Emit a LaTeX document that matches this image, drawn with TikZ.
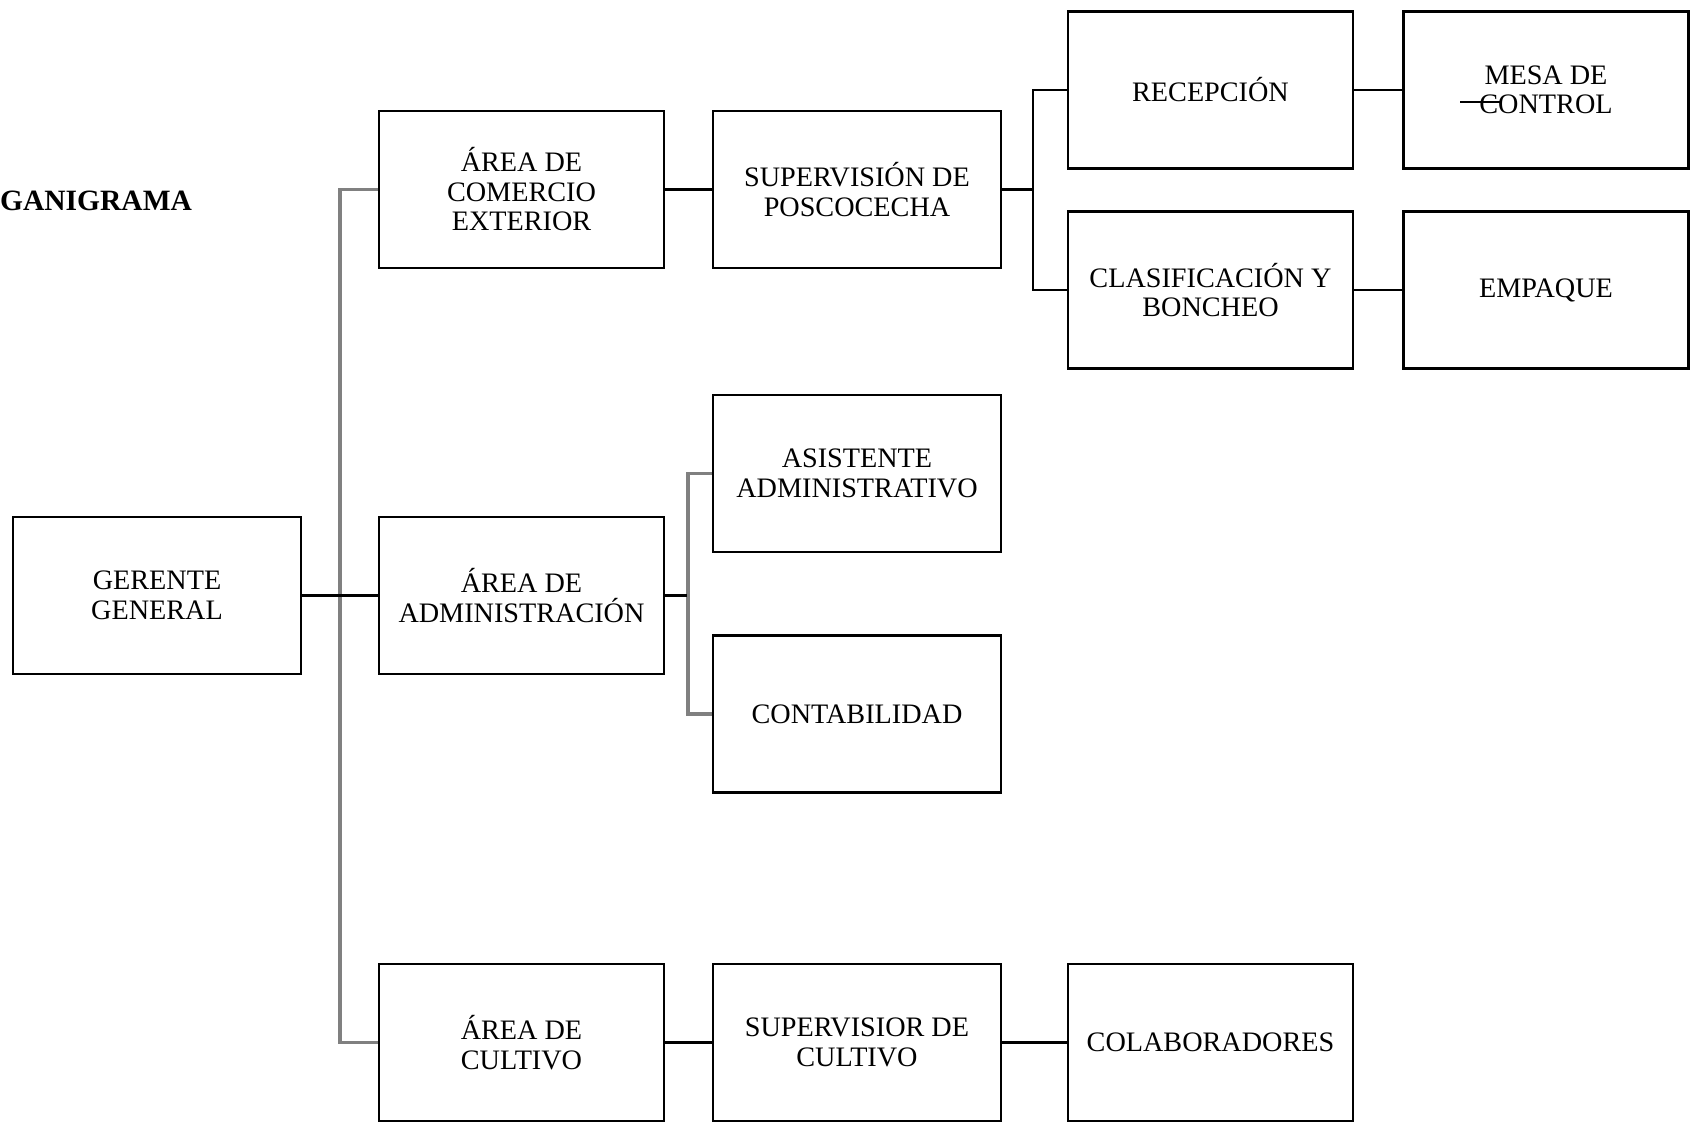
\documentclass[tikz,border=0pt]{standalone}
\usepackage{fontspec}
\setmainfont{Liberation Serif}
\definecolor{gris}{RGB}{128,128,128}

\begin{document}
\begin{tikzpicture}[x=1pt, y=-1pt,
    puesto/.style = {rectangle, draw, line width=2.4pt,
        minimum width=285pt, minimum height=157pt,
        inner sep=0pt, align=center,
        font=\fontsize{28.2}{29.5}\selectfont},
    linea/.style = {line width=2.2pt},
    bus/.style = {line width=3.4pt, draw=gris}]

\useasboundingbox (0,0) rectangle (1690,1122);

% Title
\node[anchor=base west, inner sep=0pt, font=\fontsize{29.5}{32}\bfseries] (titulo) at (0,210) {GANIGRAMA};

% Gerente general
\node[puesto, minimum width=288pt] (gg) at (157,595.5) {GERENTE\\GENERAL};

% Areas
\node[puesto] (com) at (521.5,189.5) {ÁREA DE\\COMERCIO\\EXTERIOR};
\node[puesto] (adm) at (521.5,595.5) {ÁREA DE\\ADMINISTRACIÓN};
\node[puesto] (cul) at (521.5,1042.5) {ÁREA DE\\CULTIVO};

% Supervision
\node[puesto, minimum width=288pt] (sup) at (857,189.5) {SUPERVISIÓN DE\\POSCOCECHA};
\node[puesto, minimum width=288pt] (asi) at (857,473.5) {ASISTENTE\\ADMINISTRATIVO};
\node[puesto, minimum width=288pt] (con) at (857,714) {CONTABILIDAD};
\node[puesto, minimum width=288pt] (sc) at (857,1042.5) {SUPERVISIOR DE\\CULTIVO};

% Postcosecha
\node[puesto] (rec) at (1210.5,90) {RECEPCIÓN};
\node[puesto] (cla) at (1210.5,290) {CLASIFICACIÓN Y\\BONCHEO};
\node[puesto] (col) at (1210.5,1042.5) {COLABORADORES};
\node[puesto] (mesa) at (1546,90) {MESA DE\\CONTROL};
\node[puesto] (emp) at (1546,290) {EMPAQUE};

% Main bus
\draw[bus] (com.west) -- ++(-38,0) |- (cul.west);
\draw[linea] (gg.east) -- (adm.west);

% Administration bus
\draw[bus] (asi.west) -- ++(-24,0) |- (con.west);
\draw[linea] (adm.east) -- ++(22,0);

% Postcosecha links
\draw[linea] (com.east) -- (sup.west);
\draw[linea] (sup.east) -- ++(31,0) coordinate (pc);
\draw[linea] (rec.west) -- ++(-34,0) |- (cla.west);
\draw[linea] (rec.east) -- (mesa.west);
\draw[linea] (cla.east) -- (emp.west);

% Cultivo links
\draw[linea] (cul.east) -- (sc.west);
\draw[linea] (sc.east) -- (col.west);

% Stray mark
\coordinate (m1) at (1460,102);
\coordinate (m2) at (1502,102);
\draw[line width=1.5pt] (m1) -- (m2);
\end{tikzpicture}
\end{document}
